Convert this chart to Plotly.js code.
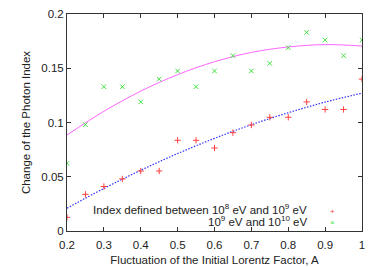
<!DOCTYPE html>
<html><head><meta charset="utf-8">
<script src="https://cdn.plot.ly/plotly-3.0.1.min.js"></script>
<style>html,body{margin:0;padding:0;background:#fff}#c{width:382px;height:267px}</style>
</head><body><div id="c"></div>
<script>
const xA = [0.2,0.25,0.3,0.35,0.4,0.45,0.5,0.55,0.6,0.65,0.7,0.75,0.8,0.85,0.9,0.95,1.0];
const idx8to9 = [0.0126,0.0338,0.041,0.048,0.0553,0.0553,0.0836,0.0836,0.0765,0.0906,0.0977,0.1048,0.1048,0.119,0.112,0.112,0.140];
const idx9to10 = [0.0624,0.098,0.133,0.133,0.119,0.140,0.1475,0.133,0.1475,0.1616,0.1475,0.1545,0.169,0.183,0.176,0.1616,0.176];
const fitX = [0.2,0.3,0.4,0.5,0.6,0.7,0.8,0.9,1.0];
const fit8to9 = [0.021,0.0392,0.0560,0.0714,0.0854,0.098,0.109,0.1188,0.127];
const fit9to10 = [0.0885,0.1103,0.1289,0.1441,0.156,0.1646,0.1696,0.1718,0.1705];
const xTicks = [0.2,0.3,0.4,0.5,0.6,0.7,0.8,0.9,1.0];
const xTickText = ['0.2','0.3','0.4','0.5','0.6','0.7','0.8','0.9','1'];
const yTicks = [0,0.05,0.1,0.15,0.2];
const yTickText = ['0','0.05','0.1','0.15','0.2'];

const font = {family:'"Liberation Sans", Arial, sans-serif', size:11.5, color:'#222'};
const traces = [
  {x:fitX, y:fit9to10, mode:'lines', line:{color:'#ff66ff', width:1, shape:'spline'}, hoverinfo:'skip'},
  {x:fitX, y:fit8to9, mode:'lines', line:{color:'#3030ff', width:1.2, dash:'1.5px,1.5px', shape:'spline'}, hoverinfo:'skip'},
  {x:xA, y:idx8to9, mode:'markers', marker:{symbol:'cross-thin-open', size:4.5, color:'#ff4040', line:{width:1, color:'#ff4040'}}},
  {x:xA, y:idx9to10, mode:'markers', marker:{symbol:'x-thin-open', size:4.5, color:'#40e040', line:{width:1, color:'#40e040'}}}
];
const axisCommon = {showgrid:false, zeroline:false, showline:true, linecolor:'#333', linewidth:1, mirror:'ticks', ticks:'inside', ticklen:4, tickcolor:'#333', tickfont:font};
const layout = {
  width:382, height:267, showlegend:false,
  margin:{l:66.5, r:20, t:14, b:36},
  paper_bgcolor:'#fff', plot_bgcolor:'#fff',
  xaxis: Object.assign({}, axisCommon, {range:[0.2,1], tickvals:xTicks, ticktext:xTickText, ticklabelstandoff:3, title:{text:'Fluctuation of the Initial Lorentz Factor, A', font:font, standoff:6}}),
  yaxis: Object.assign({}, axisCommon, {range:[0,0.2], tickvals:yTicks, ticktext:yTickText, title:{text:'Change of the Photon Index', font:font, standoff:8}}),
  annotations: [
    {xref:'paper', yref:'paper', x:0.822, y:0.10, xanchor:'right', yanchor:'middle', showarrow:false, text:'Index defined between 10<sup>8</sup> eV and 10<sup>9</sup> eV', font:font},
    {xref:'paper', yref:'paper', x:0.822, y:0.047, xanchor:'right', yanchor:'middle', showarrow:false, text:'10<sup>9</sup> eV and 10<sup>10</sup> eV', font:font},
    {xref:'paper', yref:'paper', x:0.9, y:0.092, xanchor:'center', yanchor:'middle', showarrow:false, text:'+', font:{family:font.family, size:8, color:'#ff4040'}},
    {xref:'paper', yref:'paper', x:0.9, y:0.04, xanchor:'center', yanchor:'middle', showarrow:false, text:'×', font:{family:font.family, size:8, color:'#40e040'}}
  ]
};
Plotly.newPlot('c', traces, layout, {staticPlot:true, displayModeBar:false});
</script></body></html>
